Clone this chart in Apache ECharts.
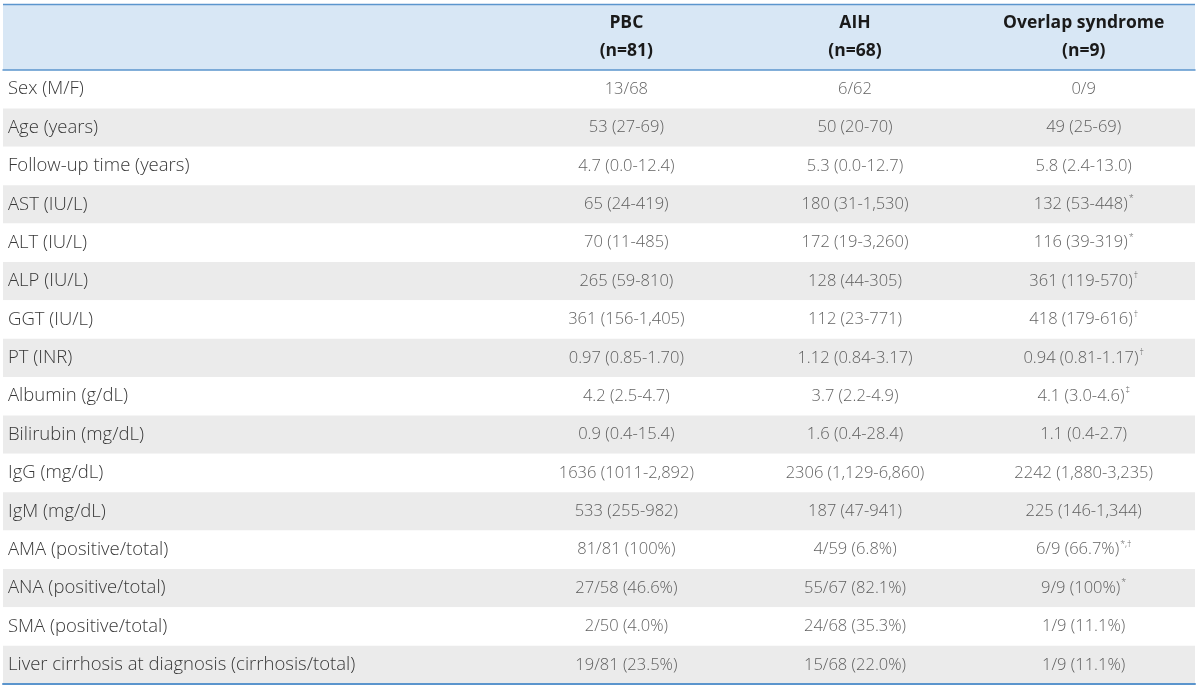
<!DOCTYPE html>
<html>
<head>
<meta charset="utf-8">
<script src="https://cdn.jsdelivr.net/npm/echarts@6/dist/echarts.min.js"></script>
<style>html,body{margin:0;padding:0;background:#fff}#chart{width:1200px;height:690px}</style>
</head>
<body>
<div id="chart"></div>
<script>
const rowLabels = [
  'Sex (M/F)', 'Age (years)', 'Follow-up time (years)', 'AST (IU/L)', 'ALT (IU/L)',
  'ALP (IU/L)', 'GGT (IU/L)', 'PT (INR)', 'Albumin (g/dL)', 'Bilirubin (mg/dL)',
  'IgG (mg/dL)', 'IgM (mg/dL)', 'AMA (positive/total)', 'ANA (positive/total)',
  'SMA (positive/total)', 'Liver cirrhosis at diagnosis (cirrhosis/total)'
];
const groupNames = ['PBC', 'AIH', 'Overlap syndrome'];
const groupSizes = ['(n=81)', '(n=68)', '(n=9)'];
const pbcValues = [
  '13/68', '53 (27-69)', '4.7 (0.0-12.4)', '65 (24-419)', '70 (11-485)',
  '265 (59-810)', '361 (156-1,405)', '0.97 (0.85-1.70)', '4.2 (2.5-4.7)', '0.9 (0.4-15.4)',
  '1636 (1011-2,892)', '533 (255-982)', '81/81 (100%)', '27/58 (46.6%)',
  '2/50 (4.0%)', '19/81 (23.5%)'
];
const aihValues = [
  '6/62', '50 (20-70)', '5.3 (0.0-12.7)', '180 (31-1,530)', '172 (19-3,260)',
  '128 (44-305)', '112 (23-771)', '1.12 (0.84-3.17)', '3.7 (2.2-4.9)', '1.6 (0.4-28.4)',
  '2306 (1,129-6,860)', '187 (47-941)', '4/59 (6.8%)', '55/67 (82.1%)',
  '24/68 (35.3%)', '15/68 (22.0%)'
];
const overlapValues = [
  '0/9', '49 (25-69)', '5.8 (2.4-13.0)', '132 (53-448)', '116 (39-319)',
  '361 (119-570)', '418 (179-616)', '0.94 (0.81-1.17)', '4.1 (3.0-4.6)', '1.1 (0.4-2.7)',
  '2242 (1,880-3,235)', '225 (146-1,344)', '6/9 (66.7%)', '9/9 (100%)',
  '1/9 (11.1%)', '1/9 (11.1%)'
];
const overlapMarks = ['', '', '', '*', '*', '\u2020', '\u2020', '\u2020', '\u2021', '', '', '', '*,\u2020', '*', '', ''];
const pbcMarks = rowLabels.map(() => '');
const aihMarks = rowLabels.map(() => '');

const FONT = '"Open Sans", "Noto Sans", sans-serif';
const TXT = '#383838';
const BLUE = '#5b95cd';

const columns = [
  { values: pbcValues, marks: pbcMarks },
  { values: aihValues, marks: aihMarks },
  { values: overlapValues, marks: overlapMarks }
];

const chart = echarts.init(document.getElementById('chart'), null, { renderer: 'canvas' });

const series = columns.map((col, gi) => ({
  type: 'scatter',
  xAxisIndex: 2,
  yAxisIndex: 1,
  symbolSize: 1,
  itemStyle: { color: 'rgba(0,0,0,0)' },
  silent: true,
  data: col.values.map((v, ri) => [gi, ri]),
  label: {
    show: true,
    position: 'inside',
    formatter: (p) => {
      const ri = p.data[1];
      const m = col.marks[ri];
      return '{v|' + col.values[ri] + '}' + (m ? '{s|' + m + '}' : '');
    },
    rich: {
      v: { fontFamily: FONT, fontWeight: 300, fontSize: 16.5, color: TXT, lineHeight: 20 },
      s: { fontFamily: FONT, fontWeight: 300, fontSize: 9, color: TXT, lineHeight: 12, verticalAlign: 'top', padding: [0, 0, 0, 1] }
    }
  }
}));

chart.setOption({
  animation: false,
  backgroundColor: '#ffffff',
  graphic: [
    { type: 'rect', z: -10, shape: { x: 3, y: 4, width: 1192, height: 66 }, style: { fill: '#d8e7f5' } },
    { type: 'line', z: 10, shape: { x1: 3, y1: 4.5, x2: 1195, y2: 4.5 }, style: { stroke: BLUE, lineWidth: 1.5 } }
  ],
  grid: [
    { left: 3, right: 5, top: 70, bottom: 6 },
    { left: 512, right: 2, top: 70, bottom: 6 }
  ],
  xAxis: [
    { gridIndex: 0, type: 'value', min: 0, max: 1, position: 'bottom',
      axisLine: { show: true, lineStyle: { color: BLUE, width: 2 } },
      axisTick: { show: false }, axisLabel: { show: false }, splitLine: { show: false } },
    { gridIndex: 0, type: 'value', min: 0, max: 1, position: 'top',
      axisLine: { show: true, lineStyle: { color: BLUE, width: 1.5 } },
      axisTick: { show: false }, axisLabel: { show: false }, splitLine: { show: false } },
    { gridIndex: 1, type: 'category', data: groupNames, position: 'top',
      axisLine: { show: false }, axisTick: { show: false }, splitLine: { show: false },
      axisLabel: {
        show: true, margin: 5, interval: 0,
        formatter: (v, i) => '{h|' + v + '}\n{h|' + groupSizes[i] + '}',
        rich: { h: { fontFamily: FONT, fontWeight: 'bold', fontSize: 17.5, color: '#1a1a1a', lineHeight: 28 } }
      } }
  ],
  yAxis: [
    { gridIndex: 0, type: 'category', data: rowLabels, inverse: true,
      axisLine: { show: false }, axisTick: { show: false }, splitLine: { show: false },
      splitArea: { show: true, areaStyle: { color: ['#ffffff', '#ebebeb'] } },
      axisLabel: { show: true, inside: true, margin: 5, interval: 0, fontFamily: FONT, fontWeight: 300, fontSize: 18.5, color: TXT } },
    { gridIndex: 1, type: 'category', data: rowLabels, inverse: true, show: false }
  ],
  series: series
});
</script>
</body>
</html>
